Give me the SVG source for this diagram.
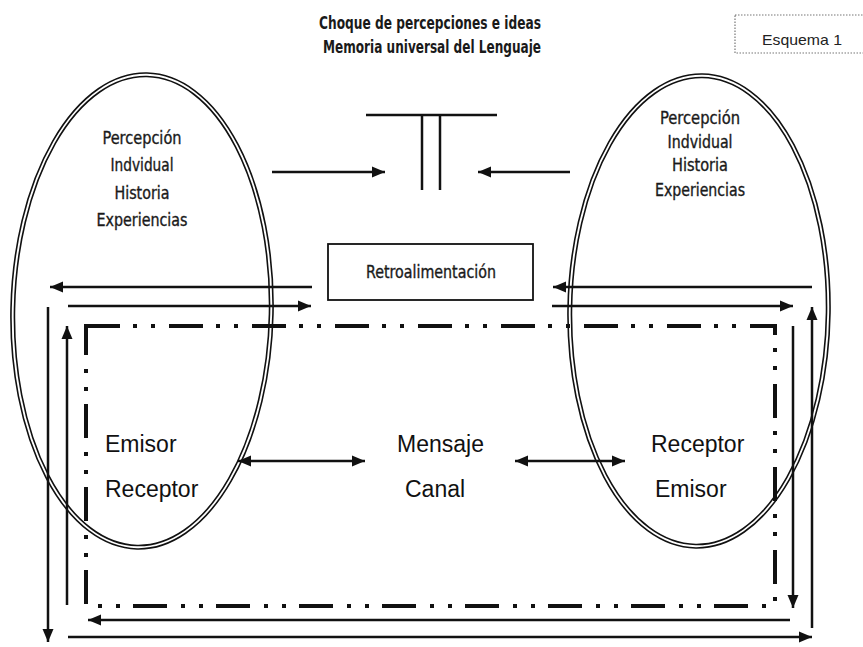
<svg xmlns="http://www.w3.org/2000/svg" width="863" height="647" viewBox="0 0 863 647">
<defs>
<marker id="ah" markerUnits="userSpaceOnUse" markerWidth="14" markerHeight="12" refX="13" refY="6" orient="auto-start-reverse">
<path d="M0,0.5 L13,6 L0,11.5 z" fill="#111"/>
</marker>
<style>
.ln{stroke:#111;stroke-width:2.5;fill:none}
.ar{stroke:#111;stroke-width:2.5;fill:none;marker-end:url(#ah)}
.dar{stroke:#111;stroke-width:2.5;fill:none;marker-start:url(#ah);marker-end:url(#ah)}
.dd{stroke:#111;stroke-width:4;fill:none;stroke-dasharray:34 13 4 14 4 14}
.el{stroke:#111;stroke-width:1.6;fill:none}
.cond{font-family:"DejaVu Sans","Liberation Sans",sans-serif;font-stretch:condensed;fill:#1a1a1a;text-anchor:middle}
.ttl{font-size:17px;font-weight:bold}
.lab{font-size:18px;stroke:#1a1a1a;stroke-width:0.35}
.big{font-family:"Liberation Sans",Arial,sans-serif;font-size:23px;fill:#111}
</style>
</defs>
<rect width="863" height="647" fill="#fff"/>

<g id="title">
<text class="cond ttl" x="430" y="29" textLength="222" lengthAdjust="spacingAndGlyphs">Choque de percepciones e ideas</text>
<text class="cond ttl" x="432" y="53" textLength="218" lengthAdjust="spacingAndGlyphs">Memoria universal del Lenguaje</text>
</g>

<g id="esquema">
<rect x="735" y="15" width="140" height="38" fill="none" stroke="#777" stroke-width="1.2" stroke-dasharray="1.5 1.5"/>
<text x="762" y="45" font-family="Liberation Sans, Arial, sans-serif" font-size="15" fill="#222" textLength="80" lengthAdjust="spacingAndGlyphs">Esquema 1</text>
</g>

<g id="choque">
<line class="ln" x1="366" y1="115" x2="497" y2="115"/>
<line class="ln" x1="422" y1="115" x2="422" y2="190"/>
<line class="ln" x1="440" y1="115" x2="440" y2="190"/>
</g>

<g id="left-ellipse">
<g transform="rotate(1.2 142 311)">
<ellipse class="el" cx="142" cy="311" rx="131" ry="238"/>
<ellipse class="el" cx="142" cy="311" rx="127.5" ry="234.5"/>
</g>
<text class="cond lab" x="142" y="144" textLength="79" lengthAdjust="spacingAndGlyphs">Percepción</text>
<text class="cond lab" x="142" y="171" textLength="63" lengthAdjust="spacingAndGlyphs">Indvidual</text>
<text class="cond lab" x="142" y="199" textLength="55" lengthAdjust="spacingAndGlyphs">Historia</text>
<text class="cond lab" x="142" y="226" textLength="91" lengthAdjust="spacingAndGlyphs">Experiencias</text>
</g>

<g id="right-ellipse">
<g transform="rotate(0.8 699 311)">
<ellipse class="el" cx="699" cy="311" rx="131" ry="237"/>
<ellipse class="el" cx="699" cy="311" rx="127.5" ry="233.5"/>
</g>
<text class="cond lab" x="700" y="124" textLength="80" lengthAdjust="spacingAndGlyphs">Percepción</text>
<text class="cond lab" x="700" y="148" textLength="65" lengthAdjust="spacingAndGlyphs">Indvidual</text>
<text class="cond lab" x="700" y="171" textLength="56" lengthAdjust="spacingAndGlyphs">Historia</text>
<text class="cond lab" x="700" y="196" textLength="90" lengthAdjust="spacingAndGlyphs">Experiencias</text>
</g>

<g id="retroalimentacion">
<rect x="328" y="244" width="205" height="56" fill="#fff" stroke="#111" stroke-width="1.8"/>
<text class="cond lab" x="431" y="278" textLength="130" lengthAdjust="spacingAndGlyphs">Retroalimentación</text>
</g>

<g id="emisor-receptor-left">
<text class="big" x="105" y="452">Emisor</text>
<text class="big" x="105" y="497">Receptor</text>
</g>
<g id="mensaje-canal">
<text class="big" x="397" y="452">Mensaje</text>
<text class="big" x="405" y="497">Canal</text>
</g>
<g id="receptor-emisor-right">
<text class="big" x="651" y="452">Receptor</text>
<text class="big" x="655" y="497">Emisor</text>
</g>

<g id="channel">
<rect class="dd" x="86" y="326" width="689" height="280"/>
</g>

<g id="connectors">
<line class="ar" x1="272" y1="172" x2="385" y2="172"/>
<line class="ar" x1="570" y1="172" x2="478" y2="172"/>
<line class="ar" x1="312" y1="287" x2="50" y2="287"/>
<line class="ar" x1="68" y1="306" x2="311" y2="306"/>
<line class="ar" x1="812" y1="287" x2="553" y2="287"/>
<line class="ar" x1="552" y1="306" x2="793" y2="306"/>
<line class="ar" x1="48" y1="307" x2="48" y2="642"/>
<line class="ar" x1="67" y1="605" x2="67" y2="326"/>
<line class="ar" x1="793" y1="326" x2="793" y2="608"/>
<line class="ar" x1="812" y1="628" x2="812" y2="307"/>
<line class="ar" x1="790" y1="620" x2="88" y2="620"/>
<line class="ar" x1="68" y1="637" x2="812" y2="637"/>
<line class="dar" x1="238" y1="461" x2="365" y2="461"/>
<line class="dar" x1="515" y1="461" x2="625" y2="461"/>
</g>
</svg>
